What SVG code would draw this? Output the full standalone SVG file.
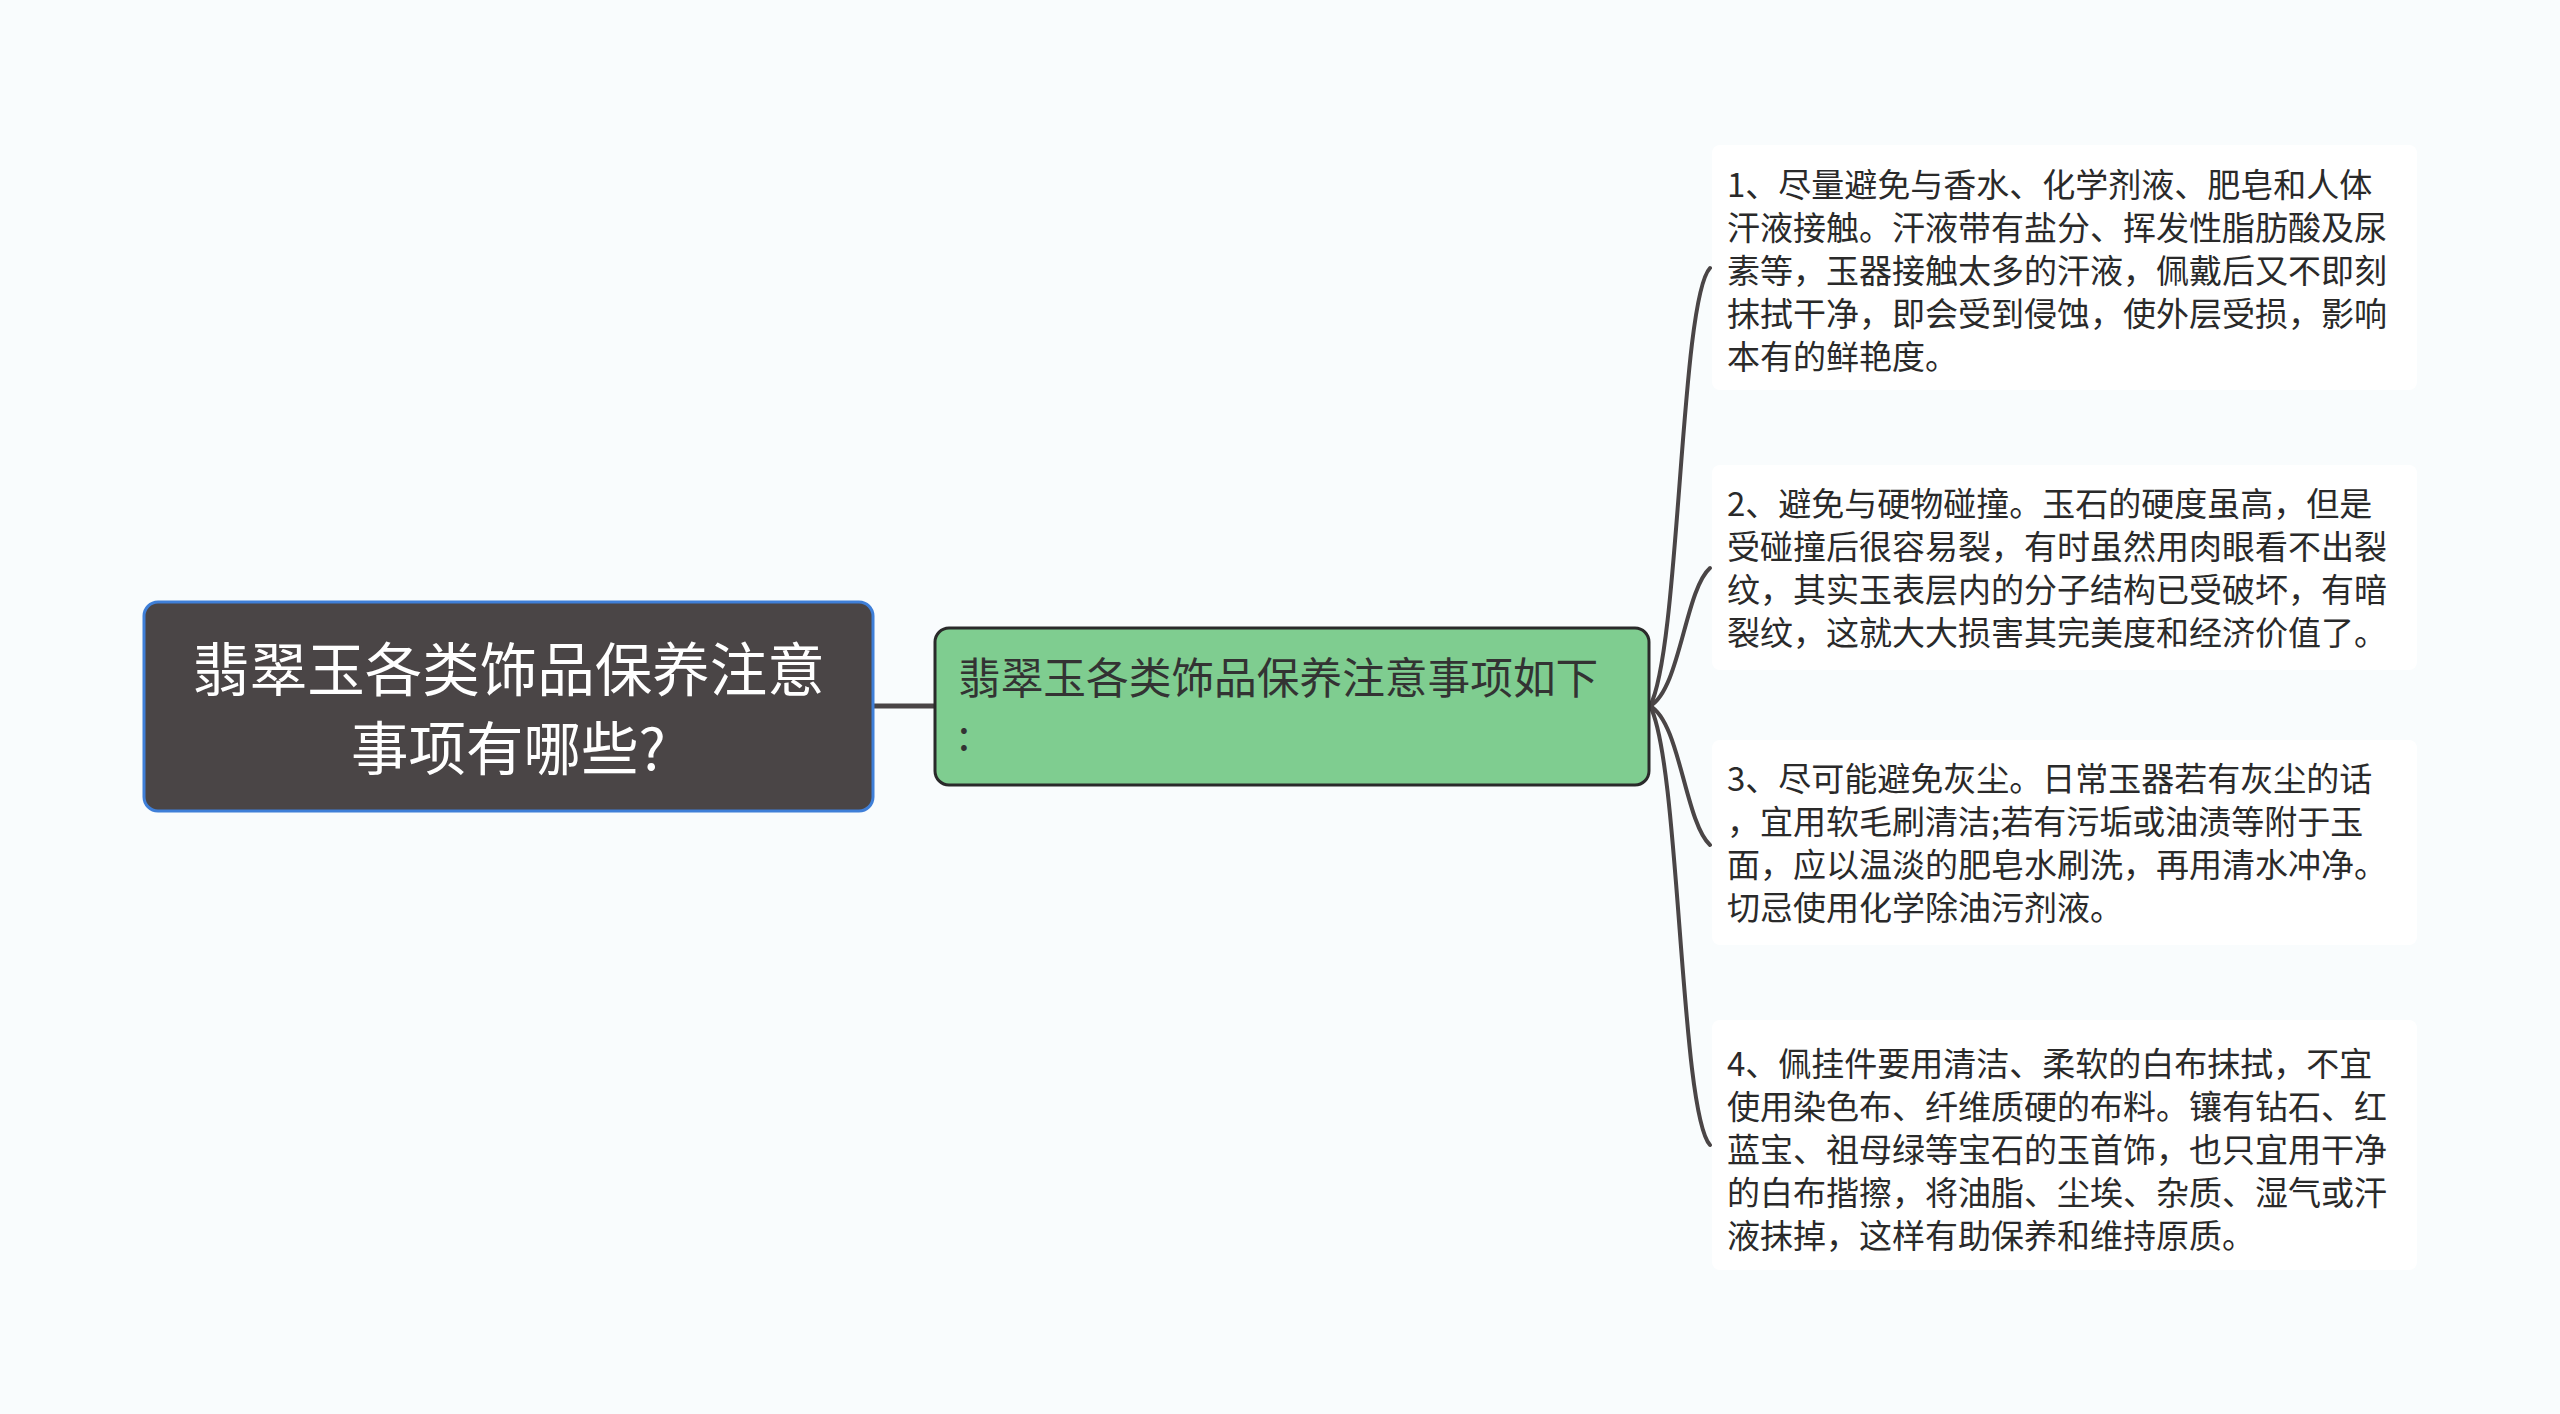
<svg xmlns="http://www.w3.org/2000/svg" width="2560" height="1414" viewBox="0 0 2560 1414">
<style>
.t{font-family:"Noto Sans CJK SC","Noto Sans",sans-serif;}
.leaf{font-size:33px;fill:#2a2a2a;}
.blk{fill:#ffffff;}
.conn{fill:none;stroke:#4a4546;stroke-width:4;stroke-linecap:round;}
</style>
<rect width="2560" height="1414" fill="#f9fcfd"/>
<g id="connectors">
<line class="conn" x1="873" y1="706" x2="934" y2="706" style="stroke-width:5"/>
<path class="conn" d="M1650,706 C1680,650 1680,300 1710,268"/>
<path class="conn" d="M1650,706 C1680,690 1685,590 1710,568"/>
<path class="conn" d="M1650,706 C1680,722 1685,822 1710,845"/>
<path class="conn" d="M1650,706 C1680,762 1680,1112 1710,1145"/>
</g>
<g id="root">
<rect x="144" y="602" width="729" height="209" rx="14" fill="#4a4546" stroke="#3f7fd8" stroke-width="3"/>
<text class="t" x="508.5" y="691" font-size="57.5" fill="#ffffff" text-anchor="middle">翡翠玉各类饰品保养注意</text>
<text class="t" x="508.5" y="770" font-size="57.5" fill="#ffffff" text-anchor="middle">事项有哪些?</text>
</g>
<g id="main">
<rect x="935" y="628" width="714" height="157" rx="14" fill="#7fcd90" stroke="#2a2a2a" stroke-width="3"/>
<text class="t" x="958" y="694" font-size="42.7" fill="#333333">翡翠玉各类饰品保养注意事项如下</text>
<text class="t" x="958" y="750" font-size="42.7" fill="#333333">:</text>
</g>
<g id="leaf1">
<rect class="blk" x="1712" y="145" width="705" height="245" rx="8"/>
<text class="t leaf" x="1727" y="197">1、尽量避免与香水、化学剂液、肥皂和人体</text>
<text class="t leaf" x="1727" y="240">汗液接触。汗液带有盐分、挥发性脂肪酸及尿</text>
<text class="t leaf" x="1727" y="283">素等，玉器接触太多的汗液，佩戴后又不即刻</text>
<text class="t leaf" x="1727" y="326">抹拭干净，即会受到侵蚀，使外层受损，影响</text>
<text class="t leaf" x="1727" y="369">本有的鲜艳度。</text>
</g>
<g id="leaf2">
<rect class="blk" x="1712" y="465" width="705" height="205" rx="8"/>
<text class="t leaf" x="1727" y="516">2、避免与硬物碰撞。玉石的硬度虽高，但是</text>
<text class="t leaf" x="1727" y="559">受碰撞后很容易裂，有时虽然用肉眼看不出裂</text>
<text class="t leaf" x="1727" y="602">纹，其实玉表层内的分子结构已受破坏，有暗</text>
<text class="t leaf" x="1727" y="645">裂纹，这就大大损害其完美度和经济价值了。</text>
</g>
<g id="leaf3">
<rect class="blk" x="1712" y="740" width="705" height="205" rx="8"/>
<text class="t leaf" x="1727" y="791">3、尽可能避免灰尘。日常玉器若有灰尘的话</text>
<text class="t leaf" x="1727" y="834">，宜用软毛刷清洁;若有污垢或油渍等附于玉</text>
<text class="t leaf" x="1727" y="877">面，应以温淡的肥皂水刷洗，再用清水冲净。</text>
<text class="t leaf" x="1727" y="920">切忌使用化学除油污剂液。</text>
</g>
<g id="leaf4">
<rect class="blk" x="1712" y="1020" width="705" height="250" rx="8"/>
<text class="t leaf" x="1727" y="1076">4、佩挂件要用清洁、柔软的白布抹拭，不宜</text>
<text class="t leaf" x="1727" y="1119">使用染色布、纤维质硬的布料。镶有钻石、红</text>
<text class="t leaf" x="1727" y="1162">蓝宝、祖母绿等宝石的玉首饰，也只宜用干净</text>
<text class="t leaf" x="1727" y="1205">的白布揩擦，将油脂、尘埃、杂质、湿气或汗</text>
<text class="t leaf" x="1727" y="1248">液抹掉，这样有助保养和维持原质。</text>
</g>
</svg>
